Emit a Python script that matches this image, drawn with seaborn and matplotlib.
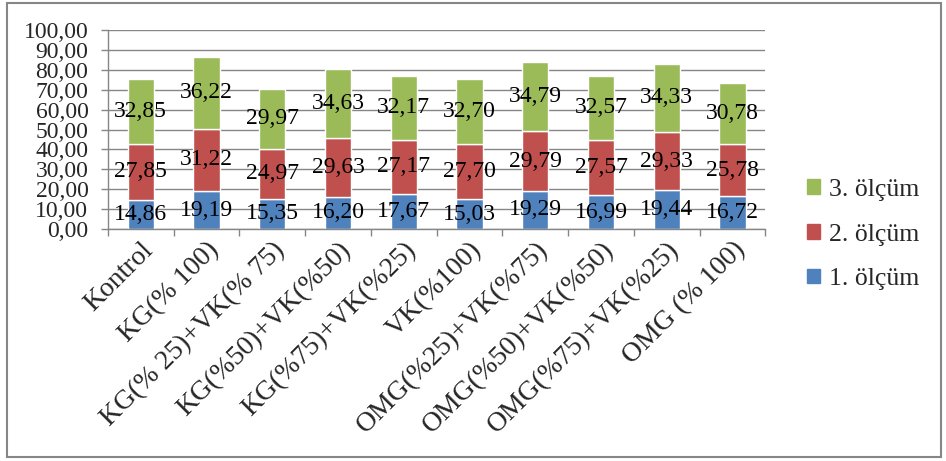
import matplotlib
matplotlib.use("Agg")
import matplotlib.pyplot as plt
from matplotlib.patches import Rectangle
import seaborn as sns
import numpy as np

categories = ["Kontrol", "KG(% 100)", "KG(% 25)+VK(% 75)", "KG(%50)+VK(%50)",
              "KG(%75)+VK(%25)", "VK(%100)", "OMG(%25)+VK(%75)",
              "OMG(%50)+VK(%50)", "OMG(%75)+VK(%25)", "OMG (% 100)"]
olcum1 = [14.86, 19.19, 15.35, 16.20, 17.67, 15.03, 19.29, 16.99, 19.44, 16.72]
olcum2 = [27.85, 31.22, 24.97, 29.63, 27.17, 27.70, 29.79, 27.57, 29.33, 25.78]
olcum3 = [32.85, 36.22, 29.97, 34.63, 32.17, 32.70, 34.79, 32.57, 34.33, 30.78]
series_names = ["1. ölçüm", "2. ölçüm", "3. ölçüm"]
series_colors = ["#4F81BD", "#C0504D", "#9BBB59"]
y_ticks = [0, 10, 20, 30, 40, 50, 60, 70, 80, 90, 100]

sns.set_theme(style="white")
plt.rcParams["font.family"] = ["Liberation Serif", "DejaVu Serif"]

fig = plt.figure(figsize=(9.46, 4.61), dpi=100)
ax = fig.add_axes([0.114, 0.503, 0.695, 0.432])

grid_color = "#868686"
ax.set_axisbelow(True)
ax.yaxis.grid(True, color=grid_color, linewidth=1.0)

bottom = np.zeros(len(categories))
handles = []
for name, vals, col in zip(series_names, [olcum1, olcum2, olcum3], series_colors):
    sns.barplot(x=categories, y=vals, color=col, bottom=bottom, width=0.4,
                ax=ax, saturation=1, order=categories)
    for i, v in enumerate(vals):
        ax.text(i, bottom[i] + v / 2, f"{v:.2f}".replace(".", ","),
                ha="center", va="center", fontsize=17, color="black")
    handles.append(Rectangle((0, 0), 1, 1, color=col))
    bottom = bottom + np.array(vals)

if ax.get_legend() is not None:
    ax.get_legend().remove()

ax.set_xlim(-0.5, len(categories) - 0.5)
ax.set_ylim(0, 100)
ax.set_yticks(y_ticks)
ax.set_yticklabels([f"{t:.2f}".replace(".", ",") for t in y_ticks], fontsize=17)
ax.tick_params(axis="y", length=5, color=grid_color, width=1, pad=9, left=True)

ax.set_xticks(range(len(categories)))
ax.set_xticklabels(categories, rotation=45, ha="right", rotation_mode="anchor",
                   fontsize=20)
ax.tick_params(axis="x", length=0, pad=6)
# category boundary ticks
ax.set_xticks(np.arange(-0.5, len(categories), 1.0), minor=True)
ax.tick_params(axis="x", which="minor", length=5, color=grid_color, width=1,
               bottom=True)

for side in ["top", "right"]:
    ax.spines[side].set_visible(False)
for side in ["left", "bottom"]:
    ax.spines[side].set_color(grid_color)
    ax.spines[side].set_linewidth(1.0)
ax.set_xlabel("")
ax.set_ylabel("")

leg = fig.legend(handles[::-1], series_names[::-1], loc="upper left",
                 bbox_to_anchor=(0.829, 0.662), frameon=False, fontsize=18.5,
                 handlelength=0.5, handleheight=0.5, handletextpad=0.35,
                 labelspacing=0.88)

fig.patches.append(Rectangle((0.007, 0.008), 0.988, 0.985, transform=fig.transFigure,
                             fill=False, edgecolor="#868686", linewidth=1.5))

fig.savefig("out.png", dpi=100)
